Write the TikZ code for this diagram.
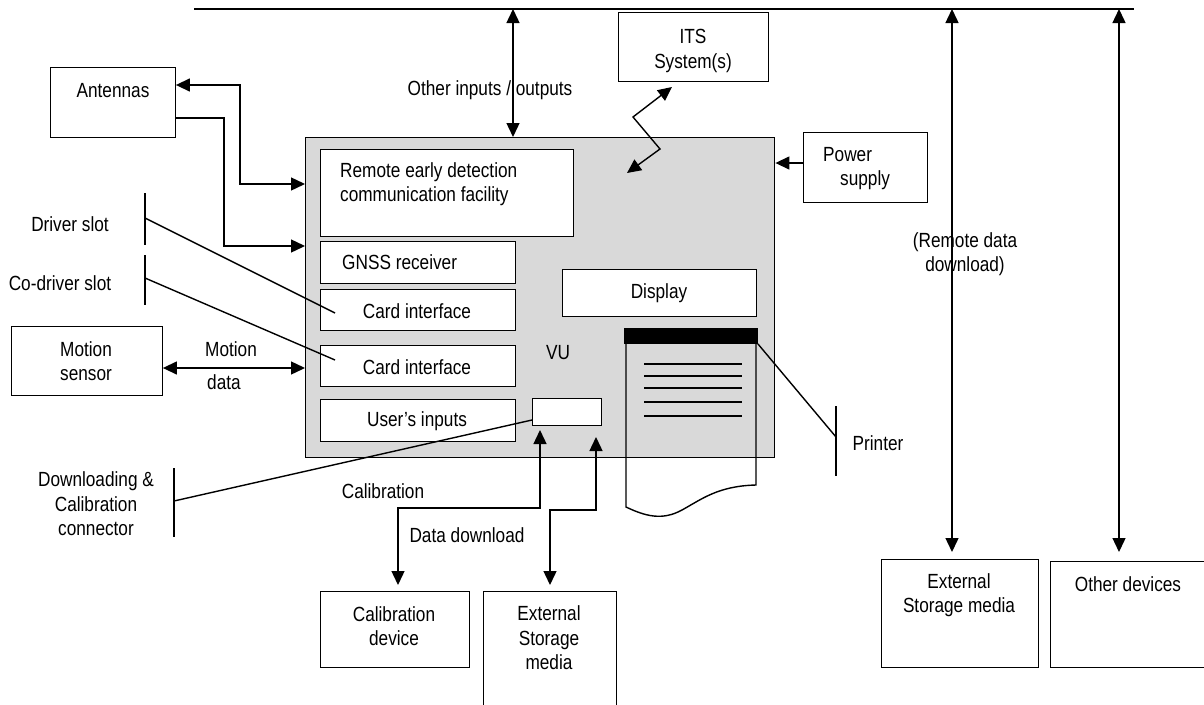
\documentclass[tikz,border=0pt]{standalone}
\usepackage{fontspec}
\setmainfont{Liberation Sans}[FakeStretch=0.84]
\usetikzlibrary{arrows.meta}
\definecolor{vugray}{RGB}{217,217,217}
\begin{document}
\begin{tikzpicture}[x=1pt,y=-1pt,
  box/.style={draw,line width=0.9pt,fill=white,inner sep=0pt,anchor=north west},
  txt/.style={inner sep=0pt,align=center,font=\fontsize{20.5}{24.5}\selectfont},
  conn/.style={line width=1.4pt},
  tip/.style={-{Triangle[length=14pt,width=13pt]}},
  tips/.style={{Triangle[length=14pt,width=13pt]}-{Triangle[length=14pt,width=13pt]}},
  tick/.style={line width=1.4pt}]
\useasboundingbox (0,0) rectangle (1204,704);

% bus line
\coordinate (busL) at (194,9);
\coordinate (busR) at (1134,9);
\draw[line width=1.2pt] (busL) -- (busR);

% VU
\node[box,fill=vugray,line width=1.4pt,minimum width=469pt,minimum height=320pt] (vu) at (305,137) {};
\node[box,minimum width=253pt,minimum height=87pt] (remote) at (320,149) {};
\node[txt,align=left,anchor=west] at (340,184) {Remote early detection\\communication facility};
\node[box,minimum width=195pt,minimum height=42pt] (gnss) at (320,241) {};
\node[txt,anchor=west] at (342,262) {GNSS receiver};
\node[box,minimum width=195pt,minimum height=41pt] (card1) at (320,289) {};
\node[txt] at (417,311) {Card interface};
\node[box,minimum width=195pt,minimum height=41pt] (card2) at (320,345) {};
\node[txt] at (417,367) {Card interface};
\node[box,minimum width=195pt,minimum height=42pt] (user) at (320,399) {};
\node[txt] at (417,421) {User’s inputs};
\node[box,minimum width=194pt,minimum height=47pt] (display) at (562,269) {};
\node[txt] at (659,293) {Display};
\node[txt] at (558,353) {VU};
\node[box,minimum width=69pt,minimum height=27pt] (conbox) at (532,398) {};

% printer
\node[box,fill=black,minimum width=133pt,minimum height=15pt] (pbar) at (624,328) {};
\draw[conn] (626,343) -- (626,507) .. controls (645,516) and (662,521) .. (682,510)
  .. controls (702,499) and (718,486) .. (756,485) -- (756,343);
\foreach \yy in {364,376,388,402,416} \draw[line width=1.2pt] (644,\yy) -- (742,\yy);
\coordinate (ptick) at (836,437);
\draw[tick] (836,406) -- (836,476);
\draw[conn] (pbar.south east) -- (ptick);
\node[txt] at (878,443) {Printer};

% antennas
\node[box,minimum width=125pt,minimum height=70pt] (ant) at (50,67) {};
\node[txt] at (113,91) {Antennas};
\draw[conn,tips] (ant.north east |- 0,85) -- (240,85) -- (240,184) -- (vu.west |- 0,184);
\draw[conn,tip] (ant.north east |- 0,118) -- (224,118) -- (224,246) -- (vu.west |- 0,246);

% slots
\draw[tick] (145,193) -- (145,245);
\draw[tick] (145,255) -- (145,305);
\coordinate (ds) at (145,218);
\coordinate (cs) at (145,278);
\coordinate (c1) at (335,313);
\coordinate (c2) at (335,360);
\draw[conn] (ds) -- (c1);
\draw[conn] (cs) -- (c2);
\node[txt] at (70,224) {Driver slot};
\node[txt] at (60,283) {Co-driver slot};

% motion sensor
\node[box,minimum width=151pt,minimum height=69pt] (motion) at (11,326) {};
\node[txt] at (86,361) {Motion\\sensor};
\draw[conn,tips] (motion.east |- 0,368) -- (vu.west |- 0,368);
\node[txt] at (231,349) {Motion};
\node[txt] at (224,382) {data};

% downloading connector
\draw[tick] (174,468) -- (174,537);
\coordinate (dl) at (174,501);
\draw[conn] (conbox.west |- 0,420) -- (dl);
\node[txt] at (96,504) {Downloading \&\\Calibration\\connector};

% calibration / download
\node[box,minimum width=149pt,minimum height=76pt] (caldev) at (320,591) {};
\node[txt] at (394,626) {Calibration\\device};
\node[box,minimum width=133pt,minimum height=130pt] (ext1) at (483,591) {};
\node[txt] at (549,638) {External\\Storage\\media};
\draw[conn,tips] (398,585) -- (398,508) -- (540,508) -- (540,430);
\draw[conn,tips] (550,585) -- (550,510) -- (596,510) -- (596,437);
\node[txt] at (383,491) {Calibration};
\node[txt] at (467,535) {Data download};

% other inputs / outputs
\draw[conn,tips] (513,9) -- (vu.north -| 513,0);
\node[txt] at (490,90) {Other inputs / outputs};

% ITS
\node[box,minimum width=150pt,minimum height=69pt] (its) at (618,12) {};
\node[txt] at (693,51) {ITS\\System(s)};
\draw[conn,tips] (627,173) -- (660,149) -- (633,117) -- (672,87);

% power supply
\node[box,minimum width=124pt,minimum height=70pt] (power) at (803,132) {};
\node[txt,align=left,anchor=west] at (823,155) {Power};
\node[txt,align=left,anchor=west] at (840,180) {supply};
\draw[conn,tip] (power.west |- 0,163) -- (vu.east |- 0,163);

% right side
\node[box,minimum width=157pt,minimum height=108pt] (ext2) at (881,559) {};
\node[txt] at (959,595) {External\\Storage media};
\node[box,minimum width=170pt,minimum height=106pt] (other) at (1050,561) {};
\node[txt] at (1128,584) {Other devices};
\draw[conn,tips] (952,9) -- (952,552);
\draw[conn,tips] (1119,9) -- (1119,552);
\node[txt] at (965,254) {(Remote data\\download)};
\end{tikzpicture}
\end{document}
